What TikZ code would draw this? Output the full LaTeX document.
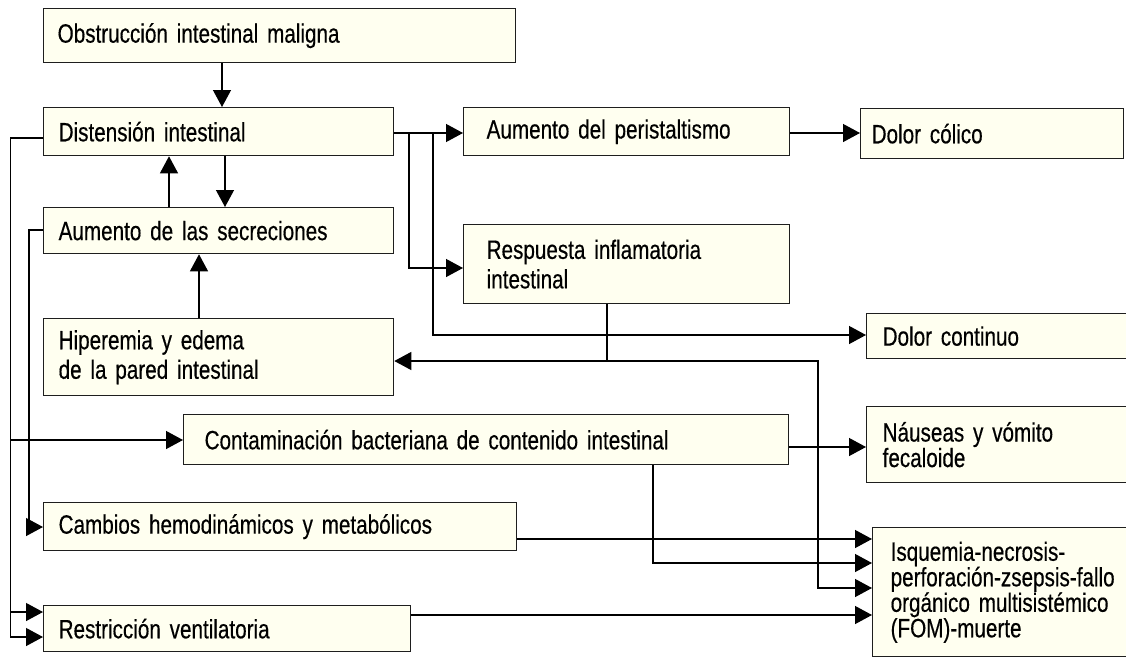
\documentclass[tikz,border=0pt]{standalone}
\usepackage{fontspec}
\setmainfont[FakeStretch=0.78,FakeBold=0.4]{Liberation Sans}
\usetikzlibrary{arrows.meta}
\definecolor{boxfill}{RGB}{255,255,240}
\definecolor{edgecol}{RGB}{30,30,30}
\begin{document}
\begin{tikzpicture}[x=1pt,y=-1pt,
  box/.style={draw=edgecol, line width=1.3pt, fill=boxfill, anchor=north west, align=left, inner ysep=0pt, font={\fontsize{26.5}{29.5}\selectfont\spaceskip=4.6pt\relax}},
  rbox/.style={box, font={\fontsize{26.5}{25.5}\selectfont\spaceskip=4.6pt\relax}},
  conn/.style={draw=black, line width=1.3pt, -{Triangle[length=17pt,width=18pt]}}]
\path[use as bounding box] (0,0) rectangle (1126,659);
\clip (0,0) rectangle (1126,659);

% boxes
\node[box, minimum width=472pt, minimum height=54pt, inner xsep=14pt, text width=444pt] (obs) at (43,8) {Obstrucción intestinal maligna};
\node[box, minimum width=350pt, minimum height=48pt, inner xsep=15pt, text width=320pt] (dist) at (43,107) {Distensión intestinal};
\node[box, minimum width=350pt, minimum height=46pt, inner xsep=15pt, text width=320pt] (secr) at (43,207) {Aumento de las secreciones};
\node[box, minimum width=350pt, minimum height=77pt, inner xsep=15pt, text width=320pt] (hiper) at (43,318) {Hiperemia y edema\\de la pared intestinal};
\node[box, minimum width=605pt, minimum height=50pt, inner xsep=21pt, text width=563pt] (cont) at (183,414) {Contaminación bacteriana de contenido intestinal};
\node[box, minimum width=473pt, minimum height=48pt, inner xsep=15pt, text width=443pt] (camb) at (43,502) {Cambios hemodinámicos y metabólicos};
\node[box, minimum width=367pt, minimum height=46pt, inner xsep=15pt, text width=337pt] (restr) at (43,605) {Restricción ventilatoria};
\node[box, minimum width=326pt, minimum height=48pt, inner xsep=23pt, text width=280pt] (peri) at (463,107) {Aumento del peristaltismo};
\node[box, minimum width=326pt, minimum height=79pt, inner xsep=23pt, text width=280pt] (resp) at (463,224) {Respuesta inflamatoria\\intestinal};
\node[box, minimum width=263pt, minimum height=50pt, inner xsep=11pt, text width=241pt] (colico) at (860,108) {Dolor cólico};
\node[box, minimum width=290pt, minimum height=45pt, inner xsep=16pt, text width=258pt] (contin) at (866,313) {Dolor continuo};
\node[rbox, minimum width=290pt, minimum height=76pt, inner xsep=16pt, text width=258pt] (naus) at (866,406) {Náuseas y vómito\\fecaloide};
\node[rbox, minimum width=290pt, minimum height=129pt, inner xsep=18pt, text width=254pt] (isq) at (872,527) {Isquemia-necrosis-\\perforación-zsepsis-fallo\\orgánico multisistémico\\(FOM)-muerte};

% vertical links in left column
\draw[conn] (obs.south -| 222,0) -- (dist.north -| 222,0);
\draw[conn] (dist.south -| 225,0) -- (secr.north -| 225,0);
\draw[conn] (secr.north -| 169,0) -- (dist.south -| 169,0);
\draw[conn] (hiper.north -| 199,0) -- (secr.south -| 199,0);

% from Distension to the right
\draw[conn] (dist.east |- 0,133) -- (peri.west |- 0,133);
\draw[conn] (dist.east |- 0,133) -| (409,268) -- (resp.west |- 0,268);
\draw[conn] (dist.east |- 0,133) -| (433,335) -- (contin.west |- 0,335);
\draw[conn] (peri.east |- 0,133) -- (colico.west |- 0,133);

% from Respuesta
\draw[conn] (resp.south -| 607,0) |- (hiper.east |- 0,361);
\draw[conn] (resp.south -| 607,0) |- (818,361) |- (isq.west |- 0,588);

% to the right column
\draw[conn] (cont.east |- 0,447) -- (naus.west |- 0,447);
\draw[conn] (cont.south -| 653,0) |- (isq.west |- 0,563);
\draw[conn] (camb.east |- 0,539) -- (isq.west |- 0,539);
\draw[conn] (restr.east |- 0,615) -- (isq.west |- 0,615);

% left buses
\draw[conn] (dist.west |- 0,138) -| (10.5,440) -- (cont.west |- 0,440);
\draw[conn] (dist.west |- 0,138) -| (10.5,612) -- (restr.west |- 0,612);
\draw[conn] (dist.west |- 0,138) -| (10.5,637) -- (restr.west |- 0,637);
\draw[conn] (secr.west |- 0,230) -| (29,527) -- (camb.west |- 0,527);
\end{tikzpicture}
\end{document}
